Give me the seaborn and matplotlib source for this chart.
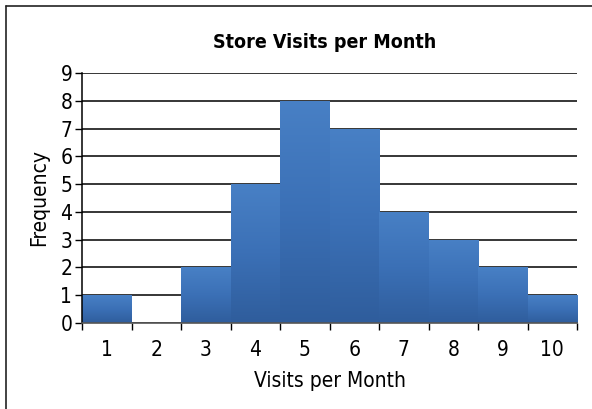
import numpy as np
import pandas as pd
import matplotlib
matplotlib.use("Agg")
import matplotlib.pyplot as plt
import seaborn as sns
from matplotlib import font_manager
from matplotlib.colors import LinearSegmentedColormap
from matplotlib.lines import Line2D

visits = [1, 2, 3, 4, 5, 6, 7, 8, 9, 10]
frequency = [1, 0, 2, 5, 8, 7, 4, 3, 2, 1]
title = "Store Visits per Month"
xlabel = "Visits per Month"
ylabel = "Frequency"

sns.set_theme(style="white")
names = {f.name for f in font_manager.fontManager.ttflist}
narrow = [n for n in ["Liberation Sans Narrow", "Arial Narrow"] if n in names]
plt.rcParams["font.family"] = narrow + ["DejaVu Sans"]
plt.rcParams["font.stretch"] = "condensed"
plt.rcParams["text.color"] = "black"
plt.rcParams["axes.labelcolor"] = "black"
plt.rcParams["xtick.color"] = "black"
plt.rcParams["ytick.color"] = "black"

fig = plt.figure(figsize=(5.92, 4.09), dpi=100)
ax = fig.add_axes([82/592, 1-323/409, (577-82)/592, (323-73)/409])

df = pd.DataFrame({"visits": [str(v) for v in visits], "freq": frequency})
sns.barplot(data=df, x="visits", y="freq", ax=ax, color="#3a6db0",
            width=1.0, saturation=1, edgecolor="none", zorder=3)

cmap = LinearSegmentedColormap.from_list("g", ["#2f5d9c", "#3b70b6", "#4880c5"])
grad = np.linspace(0, 1, 256).reshape(-1, 1)
for p in ax.patches:
    h = p.get_height()
    if h <= 0:
        continue
    x0 = p.get_x(); w = p.get_width()
    im = ax.imshow(grad, cmap=cmap, origin="lower", aspect="auto",
                   extent=[x0, x0 + w, 0, h], zorder=4, interpolation="bilinear")
    im.set_clip_path(p)

ax.set_xlim(-0.5, len(visits) - 0.5)
ax.set_ylim(0, 9)
ax.set_yticks(range(0, 10))
ax.grid(axis="y", color="black", linewidth=1.1)
ax.grid(axis="x", visible=False)
ax.set_axisbelow(True)

ax.set_xticks(np.arange(-0.5, len(visits), 1.0))
ax.set_xticklabels([])
ax.set_xticks(np.arange(len(visits)), minor=True)
ax.set_xticklabels([str(v) for v in visits], minor=True)
ax.tick_params(axis="x", which="major", direction="out", length=5, width=1, color="black", bottom=True)
ax.tick_params(axis="x", which="minor", length=0, labelsize=15, pad=12, bottom=True)
ax.tick_params(axis="y", direction="out", length=5, width=1, color="black", labelsize=15, pad=2, left=True)

for s in ["top", "right"]:
    ax.spines[s].set_visible(False)
ax.spines["left"].set_color("black")
ax.spines["left"].set_linewidth(1.1)
ax.spines["bottom"].set_color("#555555")
ax.spines["bottom"].set_linewidth(1.2)
ax.spines["left"].set_zorder(5)
ax.spines["bottom"].set_zorder(5)

ax.set_xlabel(xlabel, fontsize=15, labelpad=8)
ax.set_ylabel(ylabel, fontsize=15, labelpad=8)
fig.text(325/592, 1-43/409, title, ha="center", va="center", fontsize=14, fontweight="bold")

fig.add_artist(Line2D([6/592, 6/592], [0, 1-6/409], transform=fig.transFigure, color="#222222", lw=1.2))
fig.add_artist(Line2D([6/592, 1], [1-6/409, 1-6/409], transform=fig.transFigure, color="#222222", lw=1.2))

fig.savefig("out.png", dpi=100)
